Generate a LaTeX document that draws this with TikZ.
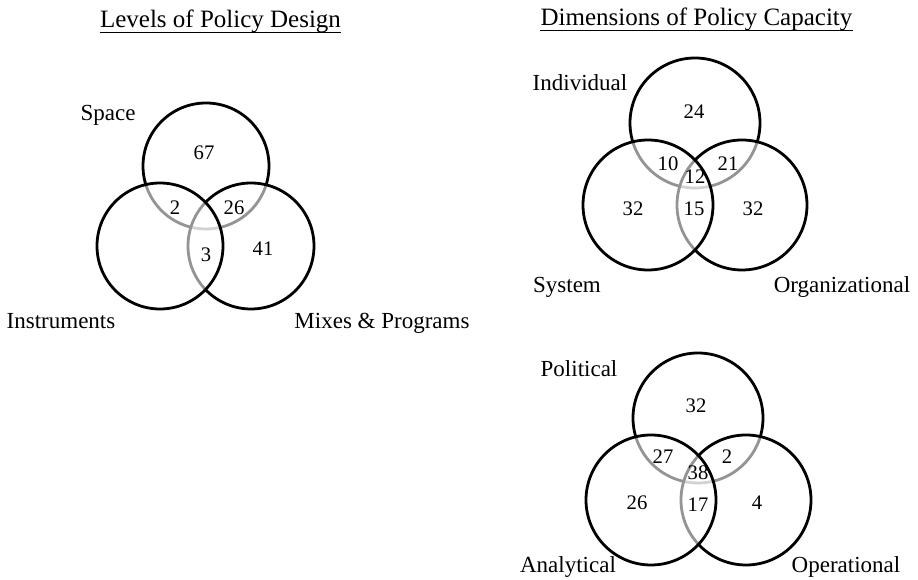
\documentclass[tikz,border=0pt]{standalone}
\usepackage{fontspec}
\setmainfont{Liberation Serif}
\begin{document}
\begin{tikzpicture}[x=0.75pt,y=-0.75pt,
  ring/.style={line width=2.1pt, draw=black},
  cover/.style={ring, fill=white, fill opacity=0.58},
  num/.style={font=\fontsize{15.5}{17}\selectfont, inner sep=0},
  lab/.style={font=\fontsize{17.25}{20}\selectfont, inner sep=0, anchor=base},
  ttl/.style={font=\fontsize{18.75}{22}\selectfont, inner sep=0, anchor=base},
  uline/.style={line width=0.9pt}]
\useasboundingbox (0,0) rectangle (918,580);

% ---------- Levels of Policy Design ----------
\coordinate (aT) at (206,166);
\coordinate (aL) at (160,246);
\coordinate (aR) at (251,246);
\draw[ring] (aT) circle [radius=63];
\draw[cover] (aR) circle [radius=63];
\draw[cover] (aL) circle [radius=63];

\node[ttl] (t1) at (220.5,28) {Levels of Policy Design};
\draw[uline] ([yshift=-3.2pt]t1.base west) -- ([yshift=-3.2pt]t1.base east);
\node[lab] (s1) at (108,121) {Space};
\node[lab] (s2) at (61,329) {Instruments};
\node[lab] (s3) at (382,329) {Mixes \& Programs};
\node[num] (n67) at (204,153) {67};
\node[num] (n2a) at (175,208) {2};
\node[num] (n26a) at (234,208) {26};
\node[num] (n3) at (206,255) {3};
\node[num] (n41) at (263,249) {41};

% ---------- Dimensions of Policy Capacity (upper) ----------
\coordinate (bT) at (695,123);
\coordinate (bL) at (648,205);
\coordinate (bR) at (742,205);
\draw[ring] (bT) circle [radius=65];
\draw[cover] (bR) circle [radius=65];
\draw[cover] (bL) circle [radius=65];

\node[ttl] (t2) at (696.5,26) {Dimensions of Policy Capacity};
\draw[uline] ([yshift=-3.2pt]t2.base west) -- ([yshift=-3.2pt]t2.base east);
\node[lab] (i1) at (580,91) {Individual};
\node[lab] (i2) at (567,293) {System};
\node[lab] (i3) at (842,293) {Organizational};
\node[num] (n24) at (694,112) {24};
\node[num] (n10) at (668,164) {10};
\node[num] (n21) at (728,164) {21};
\node[num] (n12) at (695,177) {12};
\node[num] (n32a) at (633,209) {32};
\node[num] (n15) at (694,209) {15};
\node[num] (n32b) at (753,209) {32};

% ---------- Dimensions of Policy Capacity (lower) ----------
\coordinate (cT) at (698,418);
\coordinate (cL) at (651,500);
\coordinate (cR) at (746,500);
\draw[ring] (cT) circle [radius=65];
\draw[cover] (cR) circle [radius=65];
\draw[cover] (cL) circle [radius=65];

\node[lab] (p1) at (579,377) {Political};
\node[lab] (p2) at (568,573) {Analytical};
\node[lab] (p3) at (846,573) {Operational};
\node[num] (n32c) at (696,406) {32};
\node[num] (n27) at (663,457) {27};
\node[num] (n2b) at (727,457) {2};
\node[num] (n38) at (698,473) {38};
\node[num] (n26b) at (637,503) {26};
\node[num] (n17) at (698,505) {17};
\node[num] (n4) at (757,503) {4};
\end{tikzpicture}
\end{document}
